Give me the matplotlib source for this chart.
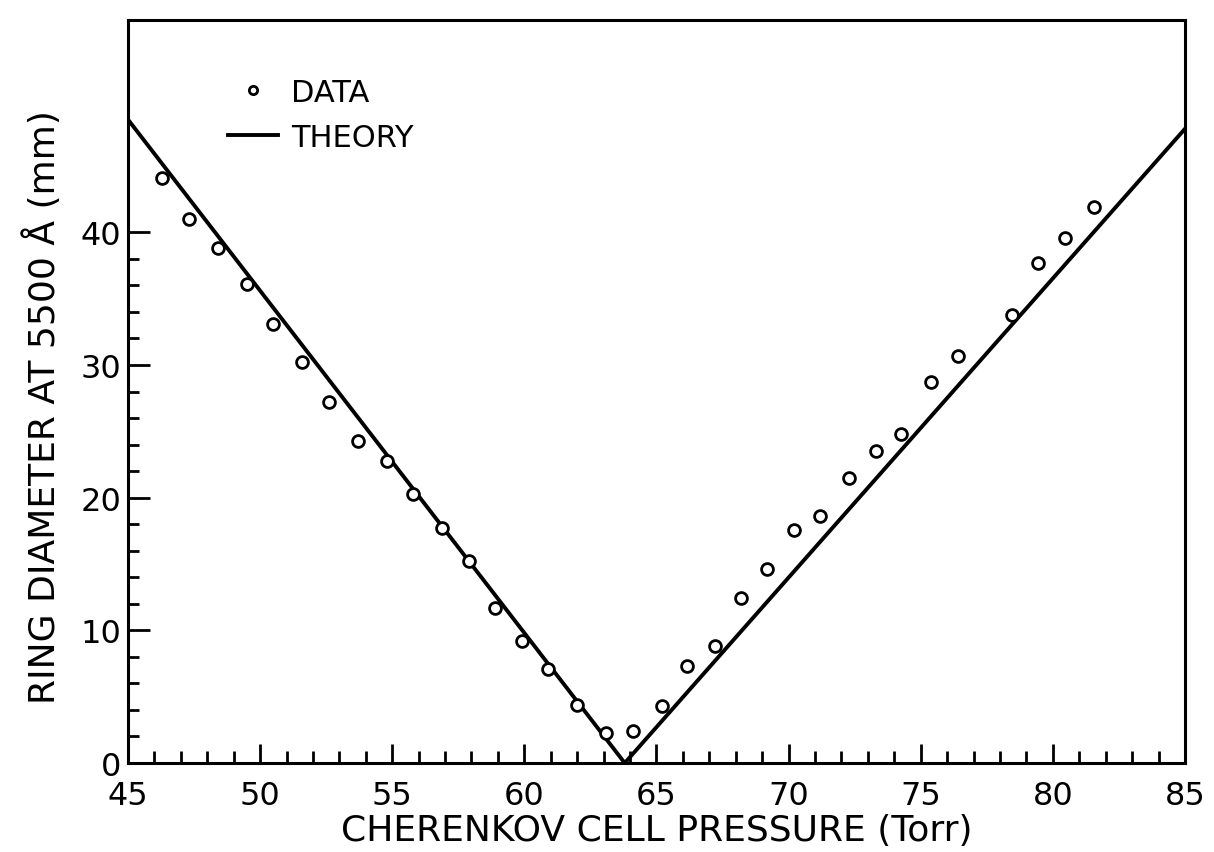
import matplotlib
matplotlib.use("Agg")
import matplotlib.pyplot as plt
from matplotlib.ticker import MultipleLocator, FixedLocator

plt.rcParams['font.family'] = ['DejaVu Sans']

# measured ring diameters (mm) vs cell pressure (Torr)
pressure = [46.3, 47.3, 48.4, 49.5, 50.5, 51.6, 52.6, 53.7, 54.8, 55.8,
            56.9, 57.9, 58.9, 59.9, 60.9, 62.0, 63.1, 64.1,
            65.2, 66.15, 67.2, 68.2, 69.2, 70.2, 71.2, 72.3, 73.3, 74.25,
            75.4, 76.4, 78.45, 79.45, 80.45, 81.55]
diameter = [44.1, 41.0, 38.8, 36.1, 33.1, 30.2, 27.2, 24.3, 22.8, 20.3,
            17.7, 15.2, 11.7, 9.2, 7.1, 4.4, 2.3, 2.4,
            4.3, 7.3, 8.8, 12.4, 14.6, 17.6, 18.6, 21.5, 23.5, 24.8,
            28.7, 30.7, 33.8, 37.7, 39.6, 41.9]

# theory curve (V shape)
theory_p = [45.0, 63.8, 85.0]
theory_d = [48.5, 0.0, 47.8]

fig = plt.figure(figsize=(12.14, 8.53), dpi=100)
ax = fig.add_axes([0.1054, 0.1043, 0.8707, 0.8711])

ax.plot(pressure, diameter, linestyle='none', marker='o', markersize=8.5,
        markerfacecolor='white', markeredgecolor='black', markeredgewidth=2.0,
        label='DATA', zorder=3)
ax.plot(theory_p, theory_d, color='black', linewidth=2.8, label='THEORY', zorder=2)

ax.set_xlim(45, 85)
ax.set_ylim(0, 56)

ax.xaxis.set_major_locator(MultipleLocator(5))
ax.xaxis.set_minor_locator(MultipleLocator(1))
ax.yaxis.set_major_locator(FixedLocator([0, 10, 20, 30, 40]))
ax.yaxis.set_minor_locator(FixedLocator(list(range(0, 41, 2))))

ax.tick_params(axis='both', which='both', direction='in', top=False, right=False,
               width=2.0, colors='black')
ax.tick_params(axis='x', which='major', length=13.5, pad=12, labelsize=23)
ax.tick_params(axis='x', which='minor', length=8.5)
ax.tick_params(axis='y', which='major', length=16, pad=5, labelsize=23)
ax.tick_params(axis='y', which='minor', length=8)

for s in ax.spines.values():
    s.set_linewidth(2.2)

ax.set_xlabel('CHERENKOV CELL PRESSURE (Torr)', fontsize=26, labelpad=2)
ax.set_ylabel('RING DIAMETER AT 5500 Å (mm)', fontsize=26)
ax.yaxis.set_label_coords(-0.062, 0.48)

leg = ax.legend(loc='upper left', bbox_to_anchor=(0.0946, 0.922), frameon=False,
                fontsize=22, handlelength=1.65, handletextpad=0.42,
                labelspacing=0.52, borderpad=0, borderaxespad=0, markerscale=0.7)

fig.savefig('out.png', dpi=100, facecolor='white')
